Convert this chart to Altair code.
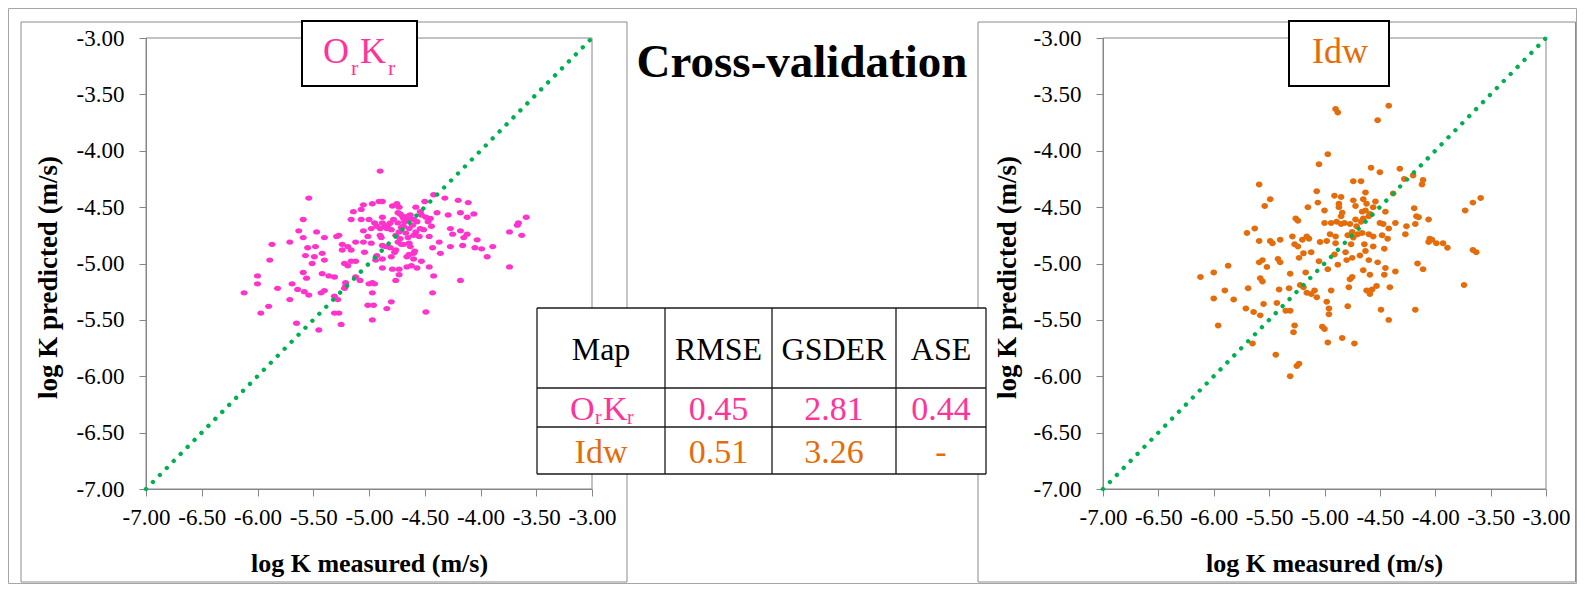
import altair as alt
import pandas as pd

# ---------------- data ----------------
ork_measured = [-4.90, -5.54, -5.59, -5.63, -5.59, -5.47, -5.40, -5.87, -5.71, -5.55,
                -5.48, -5.57, -5.49, -5.42, -5.40, -5.51, -5.89, -6.00, -6.00, -6.12,
                -5.82, -5.69, -5.64, -5.58, -5.54, -5.59, -5.56, -5.71, -5.90, -5.97,
                -5.65, -5.45, -5.42, -5.36, -5.31, -5.43, -5.40, -5.31, -5.28, -5.31,
                -5.27, -5.25, -5.21, -5.22, -5.21, -5.29, -5.27, -5.24, -5.24, -5.19,
                -5.16, -5.22, -5.19, -5.16, -5.12, -5.12, -5.05, -5.04, -5.12, -5.08,
                -5.00, -4.97, -4.95, -4.97, -5.01, -4.96, -4.97, -4.84, -4.80, -4.76,
                -4.88, -4.79, -4.73, -4.73, -4.66, -4.62, -4.57, -4.60, -4.64, -4.66,
                -4.60, -4.59, -4.53, -4.46, -4.42, -4.43, -4.49, -4.18, -3.74, -4.94,
                -4.93, -4.88, -4.80, -4.76, -4.77, -4.69, -4.64, -4.63, -4.81, -4.88,
                -4.85, -4.89, -4.90, -4.98, -5.01, -5.05, -5.07, -5.16, -5.14, -5.07,
                -5.05, -4.97, -4.91, -4.88, -4.79, -4.75, -4.73, -4.74, -4.70, -4.78,
                -4.81, -4.83, -4.88, -4.95, -4.93, -4.90, -4.86, -5.00, -4.98, -4.88,
                -4.84, -4.80, -4.76, -4.73, -4.71, -4.69, -4.66, -4.65, -4.63, -4.60,
                -4.57, -4.61, -4.64, -4.67, -4.72, -4.65, -4.60, -4.55, -4.58, -4.54,
                -4.51, -4.46, -4.44, -4.47, -4.45, -4.49, -4.53, -4.54, -4.58, -4.50,
                -4.42, -4.32, -4.39, -4.29, -4.20, -4.11, -4.18, -4.12, -4.06, -4.27,
                -4.25, -4.18, -4.12, -4.15, -4.37, -4.43, -4.36, -4.27, -4.16, -4.03,
                -4.05, -3.99, -3.89, -3.94, -3.66, -3.67, -3.59, -3.74, -3.63, -4.72,
                -4.69, -4.63, -4.68, -4.74, -4.71, -4.74]
ork_predicted = [-4.18, -4.42, -4.61, -4.71, -4.77, -4.72, -4.77, -4.83, -4.81, -4.86,
                 -4.85, -4.93, -4.94, -4.91, -4.97, -5.00, -4.97, -5.11, -5.18, -5.26,
                 -5.22, -5.18, -5.23, -5.25, -5.28, -5.08, -5.13, -5.32, -5.38, -5.44,
                 -5.53, -5.59, -5.09, -5.11, -5.12, -5.26, -5.24, -5.29, -5.32, -5.44,
                 -5.44, -5.54, -5.17, -5.22, -5.20, -4.76, -4.75, -4.83, -4.88, -4.85,
                 -4.88, -5.00, -5.02, -4.98, -4.98, -4.81, -4.81, -4.90, -5.12, -5.15,
                 -5.18, -5.17, -5.18, -5.26, -5.37, -5.37, -5.50, -5.40, -5.34, -5.15,
                 -5.04, -5.05, -5.05, -5.10, -5.03, -5.02, -5.04, -4.96, -4.92, -4.94,
                 -4.91, -4.89, -4.98, -5.03, -5.11, -5.26, -5.43, -5.15, -5.03, -4.97,
                 -4.93, -4.96, -4.94, -4.88, -4.90, -4.83, -4.82, -4.85, -4.86, -4.84,
                 -4.85, -4.77, -4.75, -4.82, -4.76, -4.71, -4.61, -4.61, -4.54, -4.52,
                 -4.48, -4.47, -4.45, -4.45, -4.49, -4.47, -4.50, -4.55, -4.58, -4.61,
                 -4.64, -4.66, -4.64, -4.64, -4.67, -4.69, -4.67, -4.61, -4.69, -4.59,
                 -4.69, -4.70, -4.75, -4.72, -4.68, -4.67, -4.61, -4.58, -4.57, -4.61,
                 -4.63, -4.66, -4.69, -4.73, -4.78, -4.77, -4.75, -4.76, -4.72, -4.69,
                 -4.70, -4.76, -4.67, -4.63, -4.60, -4.59, -4.57, -4.54, -4.50, -4.45,
                 -4.39, -4.42, -4.55, -4.57, -4.44, -4.46, -4.55, -4.59, -4.56, -4.69,
                 -4.74, -4.71, -4.74, -4.77, -4.81, -4.86, -4.91, -4.85, -4.84, -4.79,
                 -4.86, -4.87, -4.85, -4.94, -4.64, -4.66, -4.59, -4.72, -4.75, -4.56,
                 -4.60, -4.60, -4.63, -4.64, -4.83, -4.81]

idw_measured = [-4.90, -4.88, -4.42, -4.52, -4.97, -5.05, -4.58, -4.50, -4.32, -4.28,
                -4.20, -4.11, -4.12, -4.38, -4.74, -4.67, -4.63, -5.07, -5.06, -5.59,
                -5.49, -5.54, -5.15, -5.00, -4.91, -4.85, -4.87, -4.87, -4.84, -4.85,
                -4.74, -4.72, -4.65, -4.62, -4.63, -4.66, -4.59, -4.54, -4.56, -4.45,
                -4.19, -4.17, -4.15, -4.06, -3.73, -3.66, -3.59, -5.26, -5.24, -5.63,
                -5.70, -5.59, -5.49, -5.47, -5.40, -5.29, -5.27, -5.24, -5.20, -5.16,
                -5.14, -5.04, -4.98, -4.95, -4.90, -4.90, -5.00, -4.94, -4.89, -4.85,
                -4.82, -4.77, -4.72, -4.71, -4.67, -4.65, -4.60, -4.79, -4.75, -4.74,
                -4.70, -4.66, -4.60, -4.56, -4.48, -4.43, -4.50, -4.47, -4.42, -4.36,
                -4.27, -4.26, -4.18, -4.05, -4.03, -3.99, -3.93, -3.89, -4.06, -4.64,
                -4.63, -4.56, -4.46, -4.76, -4.81, -4.80, -4.75, -4.68, -4.60, -4.52,
                -4.45, -4.36, -4.16, -4.11, -3.63, -3.66, -3.74, -4.65, -4.59, -4.46,
                -4.41, -4.53, -4.57, -4.62, -4.59, -4.78, -4.77, -4.75, -4.88, -4.91,
                -4.97, -5.05, -5.12, -5.19, -5.23, -5.22, -5.19, -5.16, -5.09, -5.07,
                -5.12, -5.31, -5.17, -5.42, -5.40, -5.59, -5.56, -5.52, -5.58, -5.56,
                -5.69, -5.87, -6.00, -6.12, -5.90, -6.00, -5.82, -5.71, -5.64, -5.58,
                -5.55, -5.43, -5.41, -5.32, -5.35, -5.31, -4.94, -4.98, -4.96, -4.96,
                -4.79, -4.49, -4.42, -4.18, -5.27, -5.28, -5.02, -5.00, -4.84, -4.97,
                -4.73, -5.65, -5.96, -5.44, -5.23, -5.25, -5.31]
idw_predicted = [-3.63, -3.66, -3.60, -3.73, -4.03, -4.12, -4.15, -4.19, -4.16, -4.25,
                 -4.22, -4.26, -4.30, -4.38, -4.27, -4.27, -4.37, -4.36, -4.46, -4.30,
                 -4.43, -4.49, -4.50, -4.53, -4.40, -4.41, -4.47, -4.50, -4.55, -4.58,
                 -4.44, -4.49, -4.43, -4.47, -4.53, -4.54, -4.56, -4.45, -4.50, -4.54,
                 -4.51, -4.58, -4.59, -4.61, -4.53, -4.46, -4.42, -4.60, -4.62, -4.69,
                 -4.73, -4.80, -4.80, -4.82, -4.79, -4.76, -4.83, -4.85, -4.79, -4.76,
                 -4.78, -4.81, -4.80, -4.74, -4.76, -4.82, -4.64, -4.64, -4.63, -4.65,
                 -4.64, -4.65, -4.61, -4.67, -4.63, -4.60, -4.58, -4.75, -4.72, -4.77,
                 -4.74, -4.73, -4.74, -4.76, -4.75, -4.78, -4.64, -4.65, -4.69, -4.64,
                 -4.74, -4.67, -4.65, -4.78, -4.79, -4.82, -4.82, -4.86, -4.81, -4.83,
                 -4.89, -4.85, -4.87, -4.83, -4.90, -4.97, -4.95, -4.93, -4.97, -4.99,
                 -5.04, -5.07, -5.00, -5.05, -4.90, -4.88, -5.19, -5.06, -5.10, -5.10,
                 -5.21, -5.20, -5.23, -5.24, -5.27, -5.21, -5.14, -5.12, -5.01, -4.92,
                 -5.05, -4.98, -4.90, -4.91, -4.95, -5.19, -5.21, -5.26, -5.24, -5.30,
                 -5.27, -5.09, -5.08, -4.96, -4.99, -4.99, -4.97, -5.03, -5.13, -5.16,
                 -5.22, -5.02, -5.08, -5.12, -5.24, -5.31, -5.32, -5.40, -5.43, -5.46,
                 -5.36, -5.35, -5.23, -5.22, -5.42, -5.42, -5.24, -5.34, -5.40, -5.45,
                 -5.38, -5.41, -5.50, -5.41, -5.55, -5.61, -5.56, -5.58, -5.66, -5.70,
                 -5.71, -5.71, -5.55, -5.81, -5.89, -5.91, -6.00]

diagonal = [-7.0, -3.0]
tick_values = [-7.0, -6.5, -6.0, -5.5, -5.0, -4.5, -4.0, -3.5, -3.0]
x_title = "log K measured (m/s)"
y_title = "log K predicted (m/s)"
chart_title = "Cross-validation"
table_header = ["Map", "RMSE", "GSDER", "ASE"]
ork_stats = ["0.45", "2.81", "0.44"]
idw_stats = ["0.51", "3.26", "-"]

# ---------------- styles / layout ----------------
FONT = "Liberation Serif"
PINK_DOT = "#FF33CC"
PINK_TXT = "#FF3399"
ORANGE = "#E46C0A"
GREEN = "#00B050"
GRAY = "#868686"
FRAME = "#8c8c8c"

W, H, PB = 1569, 481, 95
ELLIPSE_P = "M-1,0A1,0.74,0,1,0,1,0A1,0.74,0,1,0,-1,0Z"
ELLIPSE_O = "M-1,0A1,0.9,0,1,0,1,0A1,0.9,0,1,0,-1,0Z"
LABEL_EXPR = "'-' + format(abs(datum.value), '.2f')"


def panel(meas, pred, color, size, shape, x_range, y_offset, xt_x, yt_x):
    xs = alt.Scale(domain=[-7, -3], range=x_range, nice=False, zero=False)
    ys = alt.Scale(domain=[-7, -3], range=[481, 30], nice=False, zero=False)
    common = dict(values=tick_values, labelExpr=LABEL_EXPR, grid=False, domainColor=GRAY,
                  tickColor=GRAY, tickSize=7, labelFont=FONT, labelFontSize=23,
                  labelColor="black", titleFont=FONT, titleFontWeight="bold",
                  titleColor="black", labelFlush=False, labelOverlap=False,
                  titleAlign="center", titleBaseline="middle")
    xax = alt.Axis(orient="bottom", title=x_title, labelPadding=10, titleFontSize=26,
                   titleX=xt_x, titleY=74, titleAngle=0, **common)
    yax = alt.Axis(orient="left", offset=y_offset, title=y_title, labelPadding=15,
                   titleFontSize=27, titleX=yt_x, titleY=269, titleAngle=270, **common)
    pts = pd.DataFrame({"m": meas, "p": pred})
    dg = pd.DataFrame({"m": diagonal, "p": diagonal})
    bd = pd.DataFrame({"lo": [diagonal[0]], "hi": [diagonal[1]]})
    border = alt.Chart(bd).mark_rect(fill="white", fillOpacity=0, stroke=GRAY, strokeWidth=1).encode(
        x=alt.X("lo:Q", scale=xs, axis=xax), x2="hi:Q",
        y=alt.Y("lo:Q", scale=ys, axis=yax), y2="hi:Q")
    dots = alt.Chart(pts).mark_point(shape=shape, filled=True, size=size, color=color,
                                     opacity=1, strokeWidth=0).encode(
        x=alt.X("m:Q", scale=xs, axis=xax), y=alt.Y("p:Q", scale=ys, axis=yax))
    diag = alt.Chart(dg).mark_line(color=GREEN, strokeWidth=4.4, strokeCap="round",
                                   strokeDash=[0.01, 9.85]).encode(
        x=alt.X("m:Q", scale=xs, axis=xax), y=alt.Y("p:Q", scale=ys, axis=yax))
    return alt.layer(border, dots, diag)


def box(x1, y1, x2, y2, stroke, sw, fill="white", fo=0.0):
    return alt.Chart(pd.DataFrame({"a": [0]})).mark_rect(
        fill=fill, fillOpacity=fo, stroke=stroke, strokeWidth=sw).encode(
        x=alt.value(x1), x2=alt.value(x2), y=alt.value(y1), y2=alt.value(y2))


def rule(x1, y1, x2, y2, color="#1a1a1a", sw=1.3):
    return alt.Chart(pd.DataFrame({"a": [0]})).mark_rule(color=color, strokeWidth=sw).encode(
        x=alt.value(x1), x2=alt.value(x2), y=alt.value(y1), y2=alt.value(y2))


def label(s, x, y, size, color, weight="normal", align="center"):
    return alt.Chart(pd.DataFrame({"t": [s]})).mark_text(
        font=FONT, fontSize=size, color=color, fontWeight=weight, align=align,
        baseline="alphabetic").encode(text="t:N", x=alt.value(x), y=alt.value(y))


def sub_text(main1, sub1, main2, sub2, xs_, base, dsub, fmain, fsub, color):
    return [label(main1, xs_[0], base, fmain, color, align="left"),
            label(sub1, xs_[1], base + dsub, fsub, color, align="left"),
            label(main2, xs_[2], base, fmain, color, align="left"),
            label(sub2, xs_[3], base + dsub, fsub, color, align="left")]


layers = []
# outer border and chart-area frames
layers.append(box(0.5, 0.5, W - 0.5, H + PB - 0.5, "#a6a6a6", 1))
layers.append(box(13, 14, 619, 574, FRAME, 1))
layers.append(box(970, 14, W - 1.5, 574, FRAME, 1))

# the two scatter panels
layers.append(panel(ork_measured, ork_predicted, PINK_DOT, 52, ELLIPSE_P,
                    [138, 584], -138, 361, -98))
layers.append(panel(idw_measured, idw_predicted, ORANGE, 44, ELLIPSE_O,
                    [1095, 1538], -1095, 1316, -96))

# panel title boxes
layers.append(box(294, 13, 409, 78, "black", 2, fo=1.0))
layers += sub_text("O", "r", "K", "r", [315, 343, 352, 380], 55, 12, 36, 22, PINK_TXT)
layers.append(box(1281, 13, 1381, 78, "black", 2, fo=1.0))
layers.append(label("Idw", 1332, 55, 36, ORANGE))

# main title
layers.append(label(chart_title, 794, 69, 47, "black", weight="bold"))

# statistics table
tx = [529, 657, 764, 888, 978]
ty = [300, 380, 419, 466]
centers = [(tx[i] + tx[i + 1]) / 2 for i in range(4)]
layers.append(box(tx[0], ty[0], tx[-1], ty[-1], "white", 0, fo=1.0))
for yy in ty:
    layers.append(rule(tx[0], yy, tx[-1], yy))
for xx in tx:
    layers.append(rule(xx, ty[0], xx, ty[-1]))
for c, h in zip(centers, table_header):
    layers.append(label(h, c, 352, 32, "black"))
layers += sub_text("O", "r", "K", "r", [562, 587, 595, 619], 412, 4, 34, 20, PINK_TXT)
for c, v in zip(centers[1:], ork_stats):
    layers.append(label(v, c, 412, 34, PINK_TXT))
layers.append(label("Idw", centers[0], 455, 34, ORANGE))
for c, v in zip(centers[1:], idw_stats):
    layers.append(label(v, c, 455, 34, ORANGE))

chart = alt.layer(*layers).resolve_scale(
    x="independent", y="independent"
).properties(
    width=W, height=H,
    autosize=alt.AutoSizeParams(type="none"),
    padding={"left": 0, "top": 0, "right": 0, "bottom": PB},
    background="white",
).configure_view(stroke="transparent")

chart.save("out.html", embed_options={"renderer": "svg", "actions": False})
